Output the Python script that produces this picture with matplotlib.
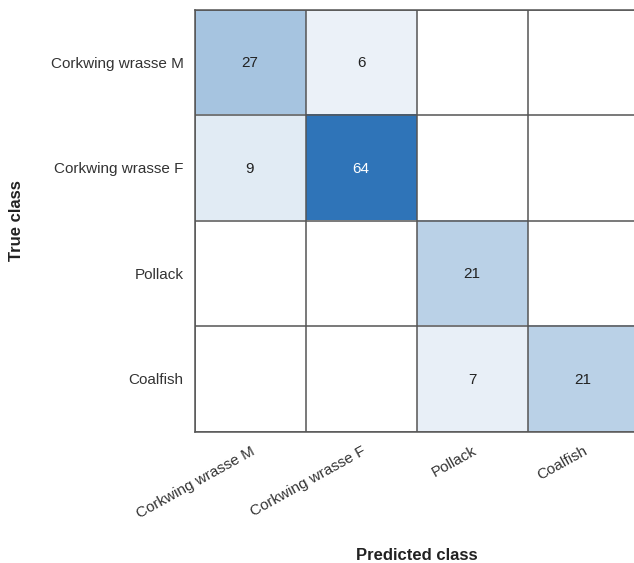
"""Confusion matrix for the fish species / sex classifier."""

import matplotlib.pyplot as plt
import matplotlib.transforms as mtransforms
import numpy as np
from matplotlib.colors import LinearSegmentedColormap

plt.rcParams["font.family"] = ["Liberation Sans", "DejaVu Sans"]

class_names = ["Corkwing wrasse M", "Corkwing wrasse F", "Pollack", "Coalfish"]
counts = np.array([
    [27, 6, 0, 0],
    [9, 64, 0, 0],
    [0, 0, 21, 0],
    [0, 0, 7, 21],
])

cmap = LinearSegmentedColormap.from_list("white_blue", ["#ffffff", "#2f74b8"])
masked = np.ma.masked_where(counts == 0, counts)

fig = plt.figure(figsize=(6.34, 5.63), dpi=100)
ax = fig.add_axes([194.5 / 634, (563 - 431.5) / 563, 444 / 634, 422 / 563])

ax.imshow(masked, cmap=cmap, vmin=0, vmax=counts.max(), aspect="auto",
          interpolation="nearest")

# cell borders
n = len(class_names)
for k in range(n + 1):
    ax.axhline(k - 0.5, color="#555555", lw=1.1)
    ax.axvline(k - 0.5, color="#555555", lw=1.1)
for spine in ax.spines.values():
    spine.set_edgecolor("#555555")
    spine.set_linewidth(1.1)

for i in range(n):
    for j in range(n):
        value = counts[i, j]
        if value == 0:
            continue
        color = "white" if value > 0.6 * counts.max() else "#222222"
        ax.text(j, i + 0.01, str(value), ha="center", va="center", fontsize=11,
                color=color)

ax.set_xlim(-0.5, n - 0.5)
ax.set_ylim(n - 0.5, -0.5)
ax.set_xticks(range(n))
ax.set_yticks(range(n))
ax.set_yticklabels(class_names, fontsize=11, color="#333333")
ax.set_xticklabels(class_names, fontsize=11, color="#333333", rotation=29,
                   ha="right", va="top", rotation_mode="anchor")
shift = mtransforms.ScaledTranslation(6 / 100, 0, fig.dpi_scale_trans)
for label in ax.get_xticklabels():
    label.set_transform(label.get_transform() + shift)
ax.tick_params(length=0, pad=9)
ax.tick_params(axis="y", pad=8)

# axis titles placed in figure pixels
fig.text(416.5 / 634, 1 - 555 / 563, "Predicted class", fontsize=12,
         fontweight="bold", color="#222222", ha="center", va="center")
fig.text(17 / 634, 1 - 220.5 / 563, "True class", fontsize=12,
         fontweight="bold", color="#222222", ha="center", va="center",
         rotation=90)

plt.savefig("out.png", dpi=100)
plt.close()
